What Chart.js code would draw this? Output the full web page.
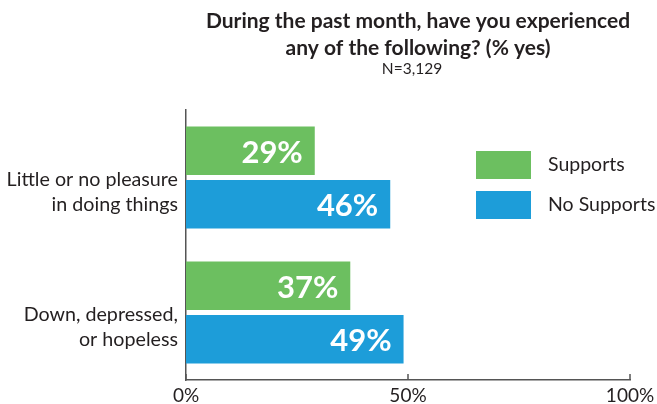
<!DOCTYPE html>
<html>
<head>
<meta charset="utf-8">
<style>
  html, body { margin: 0; padding: 0; background: #ffffff; }
  #wrap { width: 657px; height: 404px; position: relative; }
</style>
<script src="https://cdn.jsdelivr.net/npm/chart.js@4.4.1/dist/chart.umd.min.js"></script>
</head>
<body>
<div id="wrap"><canvas id="chart" width="657" height="404"></canvas></div>
<script>
// Survey items (multi-line labels)
const categories = [
  ['Little or no pleasure', 'in doing things'],
  ['Down, depressed,', 'or hopeless']
];
// Share answering "yes", in percent
const supports = [29, 37];
const noSupports = [46, 49];
const seriesNames = ['Supports', 'No Supports'];
const xTicks = [0, 50, 100];
const titleLines = ['During the past month, have you experienced', 'any of the following? (% yes)'];
const subtitleText = 'N=3,129';

const GREEN = '#6cbf60';
const BLUE = '#1d9dd9';
const INK = '#231f20';
const AXIS = '#555555';
const FONT = 'Lato, "Open Sans", sans-serif';

const annotate = {
  id: 'annotate',
  afterDatasetsDraw(chart) {
    const ctx = chart.ctx;
    const area = chart.chartArea;
    const xs = chart.scales.x;

    // inward tick marks on the value axis
    ctx.save();
    ctx.strokeStyle = AXIS;
    ctx.lineWidth = 1.5;
    xTicks.forEach(v => {
      const px = xs.getPixelForValue(v);
      ctx.beginPath();
      ctx.moveTo(px, area.bottom);
      ctx.lineTo(px, area.bottom - 6);
      ctx.stroke();
    });
    ctx.restore();

    // value labels inside bar ends
    ctx.save();
    ctx.font = 'bold 31px ' + FONT;
    ctx.fillStyle = '#ffffff';
    ctx.textAlign = 'right';
    ctx.textBaseline = 'middle';
    chart.data.datasets.forEach((ds, di) => {
      const meta = chart.getDatasetMeta(di);
      meta.data.forEach((bar, i) => {
        ctx.fillText(ds.data[i] + '%', bar.x - 12, bar.y + 2);
      });
    });
    ctx.restore();

    // legend inside the plot area
    ctx.save();
    ctx.font = '19.5px ' + FONT;
    ctx.textAlign = 'left';
    ctx.textBaseline = 'middle';
    chart.data.datasets.forEach((ds, di) => {
      const top = 151 + di * 40;
      ctx.fillStyle = ds.backgroundColor;
      ctx.fillRect(476, top, 55, 28);
      ctx.fillStyle = INK;
      ctx.fillText(ds.label, 548, top + 14);
    });
    ctx.restore();

    // title block
    ctx.save();
    ctx.fillStyle = INK;
    ctx.textAlign = 'center';
    ctx.textBaseline = 'alphabetic';
    ctx.font = 'bold 21px ' + FONT;
    titleLines.forEach((t, i) => ctx.fillText(t, 418, 28 + i * 27));
    ctx.font = '15.5px ' + FONT;
    ctx.fillText(subtitleText, 412, 74);
    ctx.restore();
  }
};

new Chart(document.getElementById('chart'), {
  type: 'bar',
  data: {
    labels: categories,
    datasets: [
      { label: seriesNames[0], data: supports, backgroundColor: GREEN },
      { label: seriesNames[1], data: noSupports, backgroundColor: BLUE }
    ]
  },
  options: {
    indexAxis: 'y',
    responsive: false,
    animation: false,
    devicePixelRatio: 1,
    categoryPercentage: 0.795,
    barPercentage: 0.904,
    layout: { padding: { left: 0, right: 27, top: 110, bottom: 0 } },
    plugins: {
      legend: { display: false },
      title: { display: false },
      tooltip: { enabled: false }
    },
    scales: {
      x: {
        min: 0, max: 100,
        afterBuildTicks(scale) { scale.ticks = xTicks.map(v => ({ value: v })); },
        afterFit(scale) {
          scale.height = 24;
          scale.paddingLeft = 0;
          scale.paddingRight = 0;
        },
        grid: { display: false, drawTicks: false },
        border: { display: true, color: AXIS, width: 1.5 },
        ticks: {
          callback: v => v + '%',
          color: INK,
          font: { family: FONT, size: 19 },
          padding: 4,
          maxRotation: 0
        }
      },
      y: {
        afterFit(scale) {
          scale.width = 186;
          scale.paddingTop = 0;
          scale.paddingBottom = 0;
        },
        grid: { display: false, drawTicks: false },
        border: { display: true, color: AXIS, width: 1.5 },
        ticks: {
          color: INK,
          font: { family: FONT, size: 19.7, lineHeight: 1.28 },
          padding: 8,
          labelOffset: 15
        }
      }
    }
  },
  plugins: [annotate]
});
</script>
</body>
</html>
